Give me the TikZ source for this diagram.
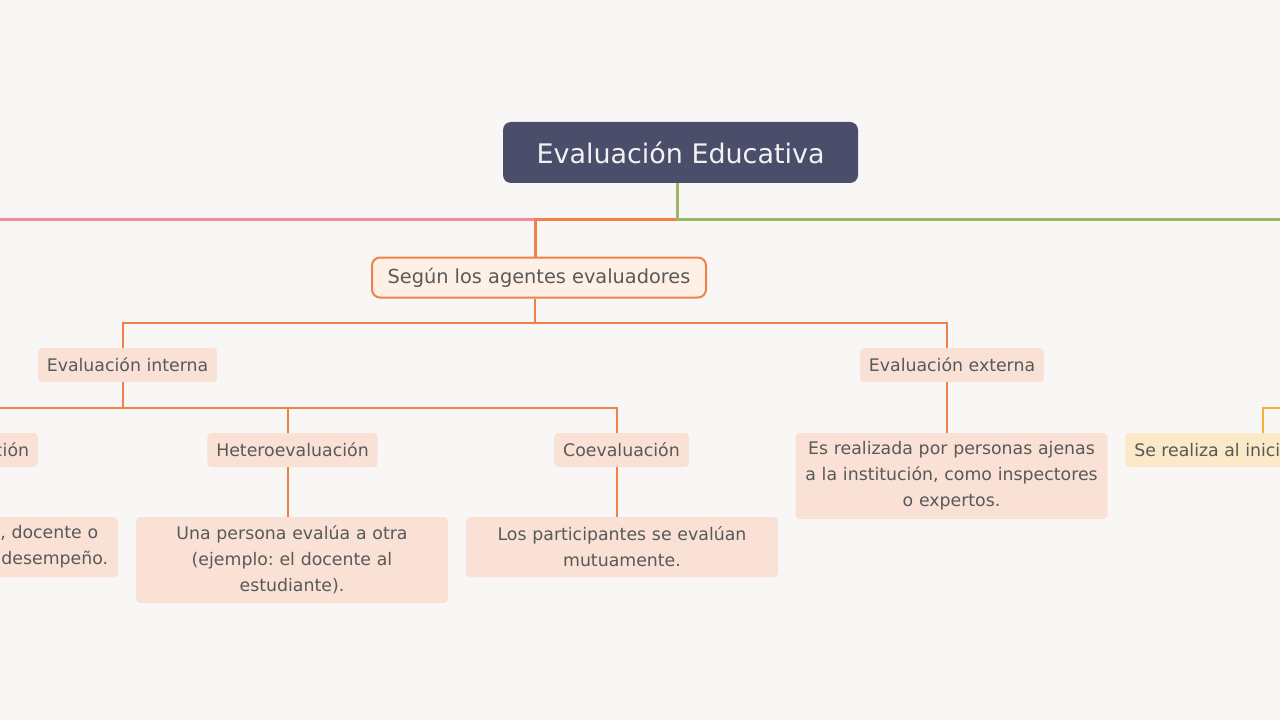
\documentclass[tikz,border=0pt]{standalone}
\usepackage{fontspec}
\setmainfont{DejaVu Sans}
\frenchspacing
\definecolor{bgc}{HTML}{F9F7F5}
\definecolor{rootc}{HTML}{4B4E6A}
\definecolor{pinkc}{HTML}{F7899F}
\definecolor{orc}{HTML}{F2804A}
\definecolor{grc}{HTML}{9DB66B}
\definecolor{ylc}{HTML}{F8B133}
\definecolor{segf}{HTML}{FEF0E5}
\definecolor{subf}{HTML}{F9E1D5}
\definecolor{ylf}{HTML}{FCE9C7}
\definecolor{txt}{HTML}{595959}
\begin{document}
\begin{tikzpicture}[x=0.75pt,y=-0.75pt,
 rootbox/.style={fill=rootc, text=white!95!black, rounded corners=6pt, minimum width=266.25pt, minimum height=45.75pt, inner sep=0pt, font=\fontsize{20.2}{24}\selectfont},
 segbox/.style={fill=segf, draw=orc, line width=1.5pt, rounded corners=6pt, text=txt, minimum width=250.5pt, minimum height=30pt, inner sep=0pt, font=\fontsize{14.5}{17}\selectfont},
 subbox/.style={fill=subf, rounded corners=3pt, text=txt, minimum height=25.5pt, inner xsep=6.75pt, inner ysep=0pt, font=\fontsize{13}{15.6}\selectfont},
 descbox/.style={fill=subf, rounded corners=3pt, text=txt, text width=220pt, align=center, inner xsep=7pt, inner ysep=0pt, font=\fontsize{13}{19.5}\selectfont\frenchspacing},
 mainline/.style={line width=2.25pt},
 subline/.style={orc, line width=1.5pt},
]
\fill[bgc] (0,0) rectangle (1280,720);
\useasboundingbox (0,0) rectangle (1280,720);
\clip (0,0) rectangle (1280,720);

% nodes
\node[rootbox] (root) at (680.5,152.5) {Evaluación Educativa};
\node[segbox] (seg) at (539,277.5) {Según los agentes evaluadores};
\node[subbox] (interna) at (127.5,365) {Evaluación interna};
\node[subbox] (externa) at (952,365) {Evaluación externa};
\node[subbox] (auto) at (-38,450) {Autoevaluación};
\node[subbox] (hetero) at (292.5,450) {Heteroevaluación};
\node[subbox] (co) at (621.5,450) {Coevaluación};
\node[descbox, minimum height=45pt] (autod) at (-38,547) {El propio estudiante, docente o\\institución evalúa su desempeño.};
\node[descbox, minimum height=64.5pt] (heterod) at (292,560) {Una persona evalúa a otra\\(ejemplo: el docente al\\estudiante).};
\node[descbox, minimum height=45pt] (cod) at (622,547) {Los participantes se evalúan\\mutuamente.};
\node[descbox, minimum height=64.5pt] (externad) at (951.5,476) {Es realizada por personas ajenas\\a la institución, como inspectores\\o expertos.};
\node[subbox, fill=ylf, anchor=west] (yl) at (1125,450) {Se realiza al inicio};

% helper coordinates
\coordinate (j0) at (677,220);
\coordinate (pinkend) at (-20,220);
\coordinate (greenend) at (1300,220);
\coordinate (y2) at (0,323);
\coordinate (y3) at (0,408);
\coordinate (xyl) at (1263,0);
\coordinate (ylend) at (1300,408);
\coordinate (rootS) at ([xshift=-2.6pt]root.south);
\coordinate (segN) at ([xshift=-3pt]seg.north);
\coordinate (segS) at ([xshift=-3pt]seg.south);
\coordinate (intN) at ([xshift=-3.4pt]interna.north);
\coordinate (intS) at ([xshift=-3.4pt]interna.south);
\coordinate (extN) at ([xshift=-3.4pt]externa.north);
\coordinate (extS) at ([xshift=-3.4pt]externa.south);
\coordinate (autoN) at ([xshift=-3.4pt]auto.north);
\coordinate (hetN) at ([xshift=-3.4pt]hetero.north);
\coordinate (coN) at ([xshift=-3.4pt]co.north);

% main branches
\draw[pinkc,mainline] (rootS) |- (pinkend);
\draw[orc,mainline] (j0) -| (segN);
\draw[grc,mainline] (rootS) |- (greenend);

% level 2
\draw[subline] (segS) -- (segS |- y2);
\draw[subline] (intN) |- (extN |- y2) -- (extN);

% level 3
\draw[subline] (intS) -- (intS |- y3);
\draw[subline] (autoN) |- (coN |- y3) -- (coN);
\draw[subline] (hetN) -- (hetN |- y3);

% descriptions
\draw[subline] ([xshift=-3.4pt]auto.south) -- ([xshift=-3.4pt]auto.south |- autod.north);
\draw[subline] ([xshift=-3.4pt]hetero.south) -- ([xshift=-3.4pt]hetero.south |- heterod.north);
\draw[subline] ([xshift=-3.4pt]co.south) -- ([xshift=-3.4pt]co.south |- cod.north);
\draw[subline] (extS) -- (extS |- externad.north);

% yellow branch
\draw[ylc,line width=1.5pt] (yl.north -| xyl) |- (ylend);
\end{tikzpicture}
\end{document}
